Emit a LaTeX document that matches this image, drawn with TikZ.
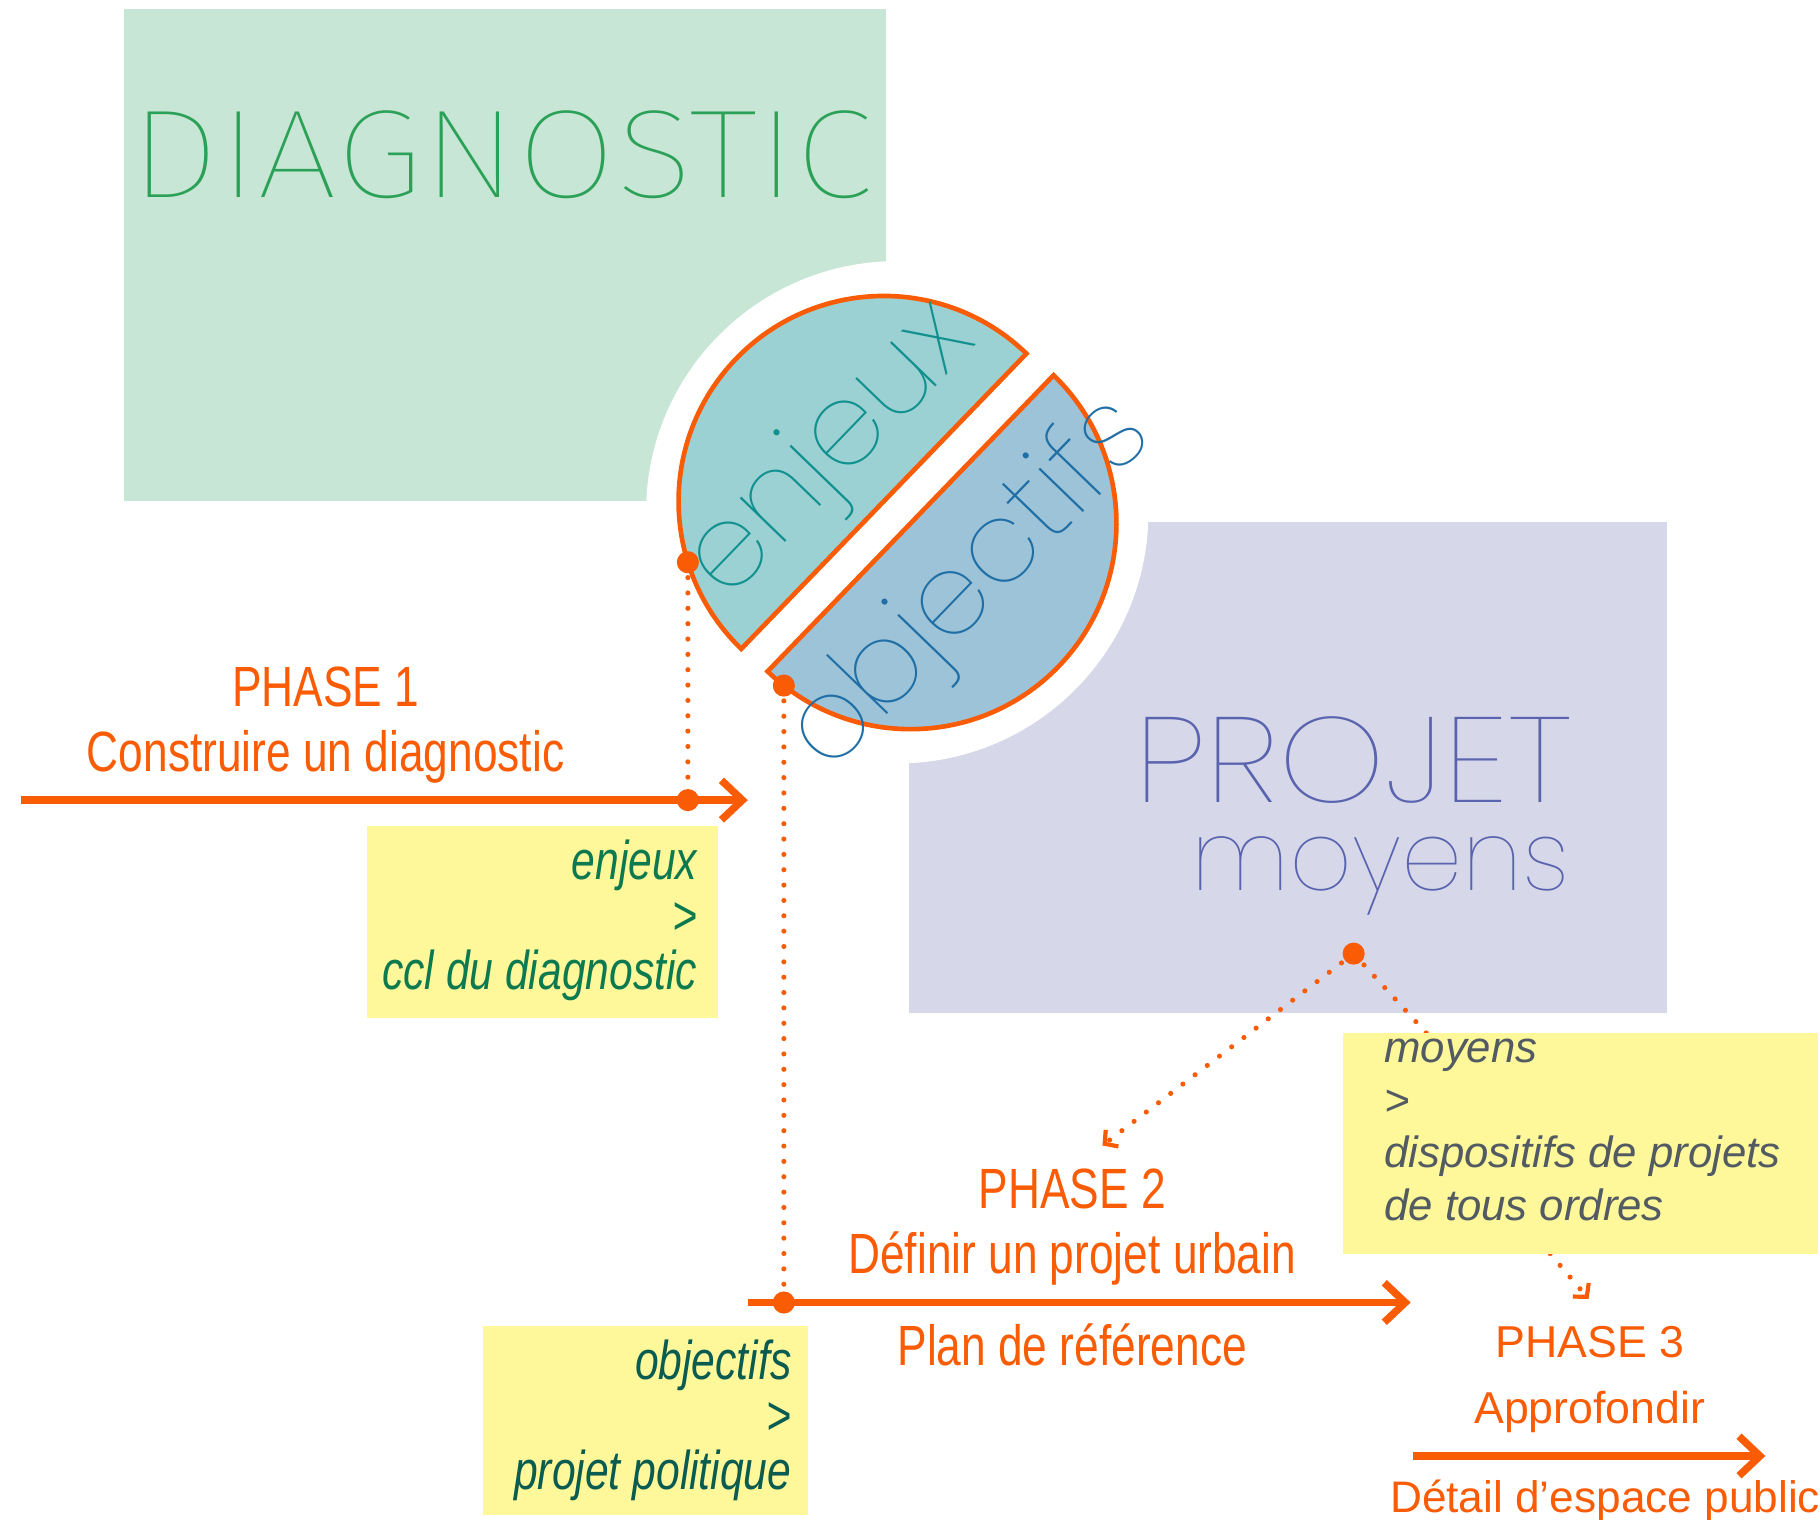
\documentclass[tikz,border=0pt]{standalone}
\usepackage{fontspec}
\setmainfont{Liberation Sans}
\newfontfamily\narrowfont{Liberation Sans}[FakeStretch=0.78]
\newfontfamily\thinfont{Poppins Thin}
\newfontfamily\widethinfont{Poppins Thin}[FakeStretch=1.12]
\newfontfamily\diagfont{Fira Sans Thin}[FakeStretch=1.14]
\usetikzlibrary{arrows.meta,fit}

\definecolor{phaseorange}{RGB}{250,92,5}
\definecolor{diagfill}{RGB}{200,230,213}
\definecolor{projfill}{RGB}{214,216,234}
\definecolor{enjfill}{RGB}{155,209,210}
\definecolor{objfill}{RGB}{156,195,215}
\definecolor{diagink}{RGB}{43,161,88}
\definecolor{projink}{RGB}{90,99,174}
\definecolor{enjink}{RGB}{16,144,142}
\definecolor{objink}{RGB}{31,110,165}
\definecolor{notefill}{RGB}{255,248,155}
\definecolor{enjnote}{RGB}{12,122,78}
\definecolor{objnote}{RGB}{10,92,80}
\definecolor{moynote}{RGB}{82,90,98}

\begin{document}
\begin{tikzpicture}[
	x=0.5pt,
	y=0.5pt,
	phaseline/.style={
		line width=3.2pt,
		draw=phaseorange,
		-{Straight Barb[length=9pt,width=17pt]}
	},
	dotline/.style={
		draw=phaseorange,
		line width=2.2pt,
		line cap=round,
		dash pattern=on 0pt off 6.6pt
	},
	dotarrow/.style={
		dotline,
		-{Straight Barb[length=4pt,width=9pt,line width=1.8pt]}
	},
	pin/.style={circle, fill=phaseorange, inner sep=0pt, minimum size=9.5pt},
	halfdisc/.style={draw=phaseorange, line width=2pt},
	phasetext/.style={
		text=phaseorange,
		font=\narrowfont\fontsize{24.4pt}{27.8pt}\selectfont,
		align=center,
		inner sep=0pt
	},
	notebox/.style={fill=notefill, inner sep=0pt},
	notetext/.style={
		font=\narrowfont\itshape\fontsize{23.5pt}{23.5pt}\selectfont,
		align=right,
		inner sep=0pt
	}]

	\useasboundingbox (0,0) rectangle (1565,-1306.2);

	% the two fields and the white ring round the disc
	\fill[diagfill] (107,-8) rectangle (762,-431);
	\fill[projfill] (782,-449) rectangle (1433,-871);
	\fill[white] (771.5,-440.5) circle[radius=216];

	\coordinate (enjc) at (760,-431);
	\coordinate (objc) at (783,-450);
	\filldraw[halfdisc, fill=enjfill] (enjc) ++(46:176.5)
		arc[start angle=46, end angle=226, radius=176.5] -- cycle;
	\filldraw[halfdisc, fill=objfill] (objc) ++(226:177)
		arc[start angle=226, end angle=406, radius=177] -- cycle;

	\node[rotate=46, text=enjink, font=\thinfont\fontsize{50pt}{50pt}\selectfont] (enjword) at (716,-390) {enjeux};
	\node[rotate=46, text=objink, font=\thinfont\fontsize{49pt}{49pt}\selectfont] (objword) at (836,-505) {objectifs};

	\node[anchor=base west, inner sep=0pt, text=diagink, font=\diagfont\fontsize{54pt}{54pt}\selectfont] (diagword) at (112,-170) {DIAGNOSTIC};
	\node[anchor=base west, inner sep=0pt, text=projink, font=\widethinfont\fontsize{52pt}{52pt}\selectfont] (projword) at (975,-690) {PROJET};
	\node[anchor=base west, inner sep=0pt, text=projink, font=\thinfont\fontsize{42pt}{42pt}\selectfont] (moyword) at (1024,-766) {moyens};

	% phases
	\node[phasetext, anchor=north] (ph1lbl) at (280,-573) {PHASE 1\\Construire un diagnostic};
	\node[phasetext, anchor=north] (ph2lbl) at (922,-1005) {PHASE 2\\D\'efinir un projet urbain};
	\node[phasetext, anchor=north] (ph2out) at (922,-1138) {Plan de r\'ef\'erence};
	\node[phasetext, anchor=north, font=\fontsize{19.2pt}{28.5pt}\selectfont] (ph3lbl) at (1367,-1140) {PHASE 3\\Approfondir};
	\node[phasetext, anchor=north west, font=\fontsize{19pt}{22pt}\selectfont] (ph3out) at (1195,-1272) {D\'etail d'espace public};

	\coordinate (ph1start) at (18,-688);
	\coordinate (ph1end) at (643,-688);
	\coordinate (ph2start) at (643,-1120);
	\coordinate (ph2end) at (1213,-1120);
	\coordinate (ph3start) at (1215,-1252);
	\coordinate (ph3end) at (1518,-1252);

	\path (enjc) ++(197.3:176.5) coordinate (enjdot);
	\path (objc) ++(232:177) coordinate (objdot);
	\coordinate (ph1dot) at (enjdot |- ph1start);
	\coordinate (ph2dot) at (objdot |- ph2start);
	\coordinate (moydot) at (1164,-820);
	\coordinate (ph2tip) at (948,-985);
	\coordinate (moyin) at (1228,-890);
	\coordinate (moyout) at (1333,-1078);
	\coordinate (ph3tip) at (1366,-1117);

	\draw[dotline] (enjdot) -- (ph1dot);
	\draw[dotline] (objdot) -- (ph2dot);
	\draw[dotarrow] (moydot) -- (ph2tip);
	\draw[dotline] (moydot) -- (moyin);
	\draw[dotarrow] (moyout) -- (ph3tip);

	% notes
	\node[notebox, fit={(316,-710) (617,-875)}] (enjbox) {};
	\node[notetext, text=enjnote, anchor=north east] (enjtxt) at (600,-722) {enjeux\\>\\ccl du diagnostic};
	\node[notebox, fit={(415,-1140) (695,-1303)}] (objbox) {};
	\node[notetext, text=objnote, anchor=north east] (objtxt) at (681,-1152) {objectifs\\>\\projet politique};
	\node[notebox, fit={(1155,-888) (1563,-1078)}] (moybox) {};
	\node[notetext, text=moynote, anchor=north west, align=left, font=\fontsize{18.8pt}{22.6pt}\selectfont\itshape] (moytxt) at (1190,-893) {moyens\\>\\dispositifs de projets\\de tous ordres};

	\draw[phaseline] (ph1start) -- (ph1end);
	\draw[phaseline] (ph2start) -- (ph2end);
	\draw[phaseline] (ph3start) -- (ph3end);

	\node[pin] (enjpin) at (enjdot) {};
	\node[pin] (objpin) at (objdot) {};
	\node[pin] (ph1pin) at (ph1dot) {};
	\node[pin] (ph2pin) at (ph2dot) {};
	\node[pin] (moypin) at (moydot) {};
\end{tikzpicture}
\end{document}
